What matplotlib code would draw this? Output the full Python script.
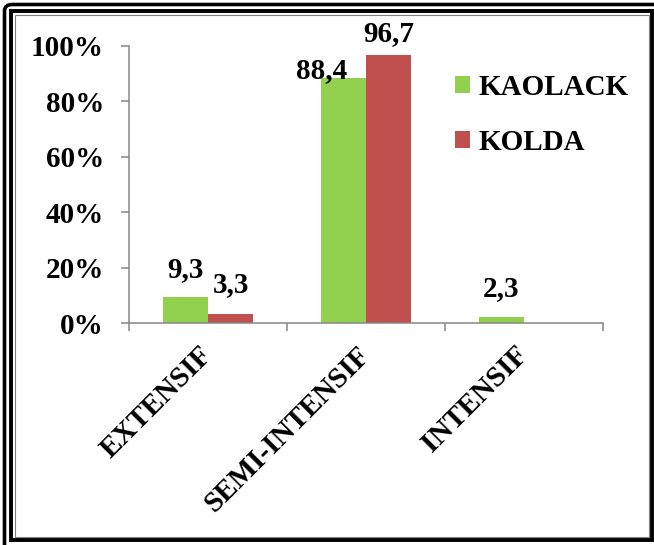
import matplotlib
matplotlib.use("Agg")
import matplotlib.pyplot as plt
import numpy as np
from matplotlib.patches import Rectangle, FancyBboxPatch
from matplotlib.ticker import FuncFormatter

# données
categories = ['EXTENSIF', 'SEMI-INTENSIF', 'INTENSIF']
kaolack = [9.3, 88.4, 2.3]
kolda = [3.3, 96.7, 0.0]
series_names = ['KAOLACK', 'KOLDA']

plt.rcParams['font.family'] = ['Liberation Serif', 'DejaVu Serif']
plt.rcParams['font.weight'] = 'bold'
plt.rcParams['font.size'] = 21

W, H = 654, 545
fig = plt.figure(figsize=(W / 100, H / 100), dpi=100)


def fx(px):
    return px / W


def fy(py):
    return 1 - py / H


ax = fig.add_axes([fx(129), fy(323), fx(603) - fx(129), fy(46) - fy(323)])

green = '#92D050'
red = '#C0504D'
grey = '#868686'

x = np.arange(len(categories))
w = 0.285
b1 = ax.bar(x - w / 2, kaolack, w, color=green, label=series_names[0])
b2 = ax.bar(x + w / 2, kolda, w, color=red, label=series_names[1])

ax.set_xlim(-0.5, len(categories) - 0.5)
ax.set_ylim(0, 100)
ax.set_yticks(np.arange(0, 101, 20))
ax.yaxis.set_major_formatter(FuncFormatter(lambda v, p: f'{int(v)}%'))

# étiquettes de catégories au centre, graduations aux limites
ax.set_xticks(x)
ax.set_xticklabels(categories, rotation=45, ha='right', va='center',
                   rotation_mode='anchor', fontweight='bold')
ax.set_xticks(np.arange(-0.5, len(categories), 1), minor=True)
ax.tick_params(axis='x', which='major', length=0, pad=20)
ax.tick_params(axis='x', which='minor', length=6, width=1.1, color=grey)
ax.tick_params(axis='y', length=6, width=1.1, color=grey, pad=12)
for t in ax.get_yticklabels():
    t.set_fontweight('bold')

for s in ['top', 'right']:
    ax.spines[s].set_visible(False)
for s in ['left', 'bottom']:
    ax.spines[s].set_color(grey)
    ax.spines[s].set_linewidth(1.1)


def fmt(v):
    return f'{v:.1f}'.replace('.', ',')


# valeurs au-dessus des barres (décalages en pixels)
offsets1 = [(0, 20), (-22, 0), (0, 21)]
offsets2 = [(0, 22), (0, 14), (0, 20)]
for bars, vals, offs in [(b1, kaolack, offsets1), (b2, kolda, offsets2)]:
    for rect, v, (dx, dy) in zip(bars, vals, offs):
        if v == 0:
            continue
        ax.annotate(fmt(v), (rect.get_x() + rect.get_width() / 2, v),
                    xytext=(dx, dy), textcoords='offset pixels',
                    ha='center', va='baseline', fontweight='bold')

ax.legend(loc='upper left', bbox_to_anchor=(fx(455), fy(74)),
          bbox_transform=fig.transFigure, frameon=False,
          prop={'weight': 'bold', 'size': 21},
          handlelength=0.52, handleheight=0.52, handletextpad=0.3,
          labelspacing=0.95, borderpad=0, borderaxespad=0)

# cadre double autour du graphique
fig.patches.append(FancyBboxPatch((fx(4.5), fy(560)), fx(680), fy(4.5) - fy(560),
                                  boxstyle='round,pad=0,rounding_size=0.012',
                                  transform=fig.transFigure, fill=False,
                                  edgecolor='black', linewidth=2.6))
fig.patches.append(Rectangle((fx(11), fy(540)), fx(652) - fx(11), fy(11) - fy(540),
                             transform=fig.transFigure, fill=False,
                             edgecolor='black', linewidth=2.8))
fig.patches.append(Rectangle((fx(14.5), fy(537)), fx(648.5) - fx(14.5), fy(14.5) - fy(537),
                             transform=fig.transFigure, fill=False,
                             edgecolor='#808080', linewidth=0.8))

fig.savefig('out.png', dpi=100)
